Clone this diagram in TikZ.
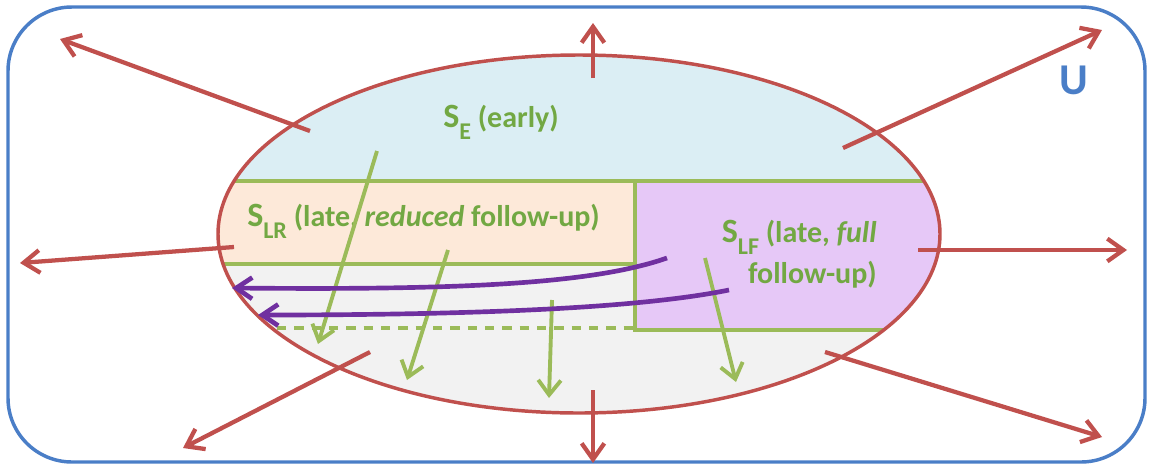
\documentclass[tikz,border=0pt]{standalone}
\usepackage{fontspec}
\setmainfont{Carlito}
\usepackage{tikz}
\usetikzlibrary{arrows.meta}
\definecolor{ublue}{HTML}{4A7EC7}
\definecolor{setred}{HTML}{C0504D}
\definecolor{lineg}{HTML}{9BBB59}
\definecolor{textg}{HTML}{72A843}
\definecolor{leakp}{HTML}{7030A0}
\definecolor{earlyfill}{HTML}{DBEEF4}
\definecolor{reducedfill}{HTML}{FDE9D9}
\definecolor{fullfill}{HTML}{E6C8F7}
\definecolor{restfill}{HTML}{F2F2F2}
\tikzset{
  universe/.style = {draw=ublue, line width=2.6pt, rounded corners=48pt},
  border/.style   = {draw=lineg, line width=2.6pt},
  outward/.style  = {-{Straight Barb[length=12pt, width=17pt]}, setred, line width=3.2pt},
  moveon/.style   = {-{Straight Barb[length=11pt, width=17pt]}, lineg, line width=2.9pt},
  leak/.style     = {-{Straight Barb[length=12pt, width=16pt]}, leakp, line width=3.5pt},
  setlabel/.style = {text=textg, font=\fontsize{22.5}{31}\selectfont\bfseries, inner sep=0pt},
}
\newcommand{\setname}[1]{{\fontsize{25.5}{28}\selectfont S}\raisebox{-9pt}{\fontsize{18}{20}\selectfont #1}}

\begin{document}
\begin{tikzpicture}[x=0.75pt, y=-0.75pt]
  \useasboundingbox (0,0) rectangle (1153,465);

  % --- universe ---
  \draw[universe] (8,7) rectangle (1145,462);
  \node[text=ublue, font=\fontsize{33}{36}\selectfont\bfseries] (U) at (1074,80) {U};

  % --- regions inside the set ---
  \begin{scope}
    \clip (579,234) ellipse [x radius=361, y radius=179];
    \fill[restfill] (200,40) rectangle (960,430);
    \fill[earlyfill] (200,40) rectangle (960,181);
    \fill[reducedfill] (200,181) rectangle (635,264);
    \fill[fullfill] (635,181) rectangle (960,330);
    \draw[border] (200,181) -- (960,181);
    \draw[border] (200,264) -- (635,264);
    \draw[border] (635,181) -- (635,330) -- (960,330);
    \draw[border, dashed, dash pattern=on 7pt off 6pt] (277,328) -- (635,328);
  \end{scope}
  \draw[setred, line width=2.6pt] (579,234) ellipse [x radius=361, y radius=179];

  % --- labels ---
  \node[setlabel, anchor=base west] (early) at (443,127) {\setname{E} (early)};
  \node[setlabel, anchor=base west] (reduced) at (247,226)
    {\setname{LR} (late, \textit{reduced} follow-up)};
  \node[setlabel, anchor=east, align=right] (full) at (877,254)
    {\setname{LF} (late, \textit{full}\\ follow-up)};

  % --- outward arrows ---
  \draw[outward] (310,131) -- (60,39);
  \draw[outward] (593,78) -- (593,23);
  \draw[outward] (843,148) -- (1102,30);
  \draw[outward] (234,247) -- (20,263);
  \draw[outward] (918,250) -- (1127,250);
  \draw[outward] (370,352) -- (183,448);
  \draw[outward] (593,390) -- (593,463);
  \draw[outward] (825,352) -- (1102,437);

  % --- moves to later classes ---
  \draw[moveon] (377,151) -- (318,344);
  \draw[moveon] (448,250) -- (407,380);
  \draw[moveon] (552,300) -- (549,398);
  \draw[moveon] (705,258) -- (736,382);

  % --- loss to reduced follow-up ---
  \draw[leak] (667,258) .. controls (590,285) and (450,290) .. (232,288);
  \draw[leak] (729,290) .. controls (640,308) and (480,315) .. (258,315);
\end{tikzpicture}
\end{document}
